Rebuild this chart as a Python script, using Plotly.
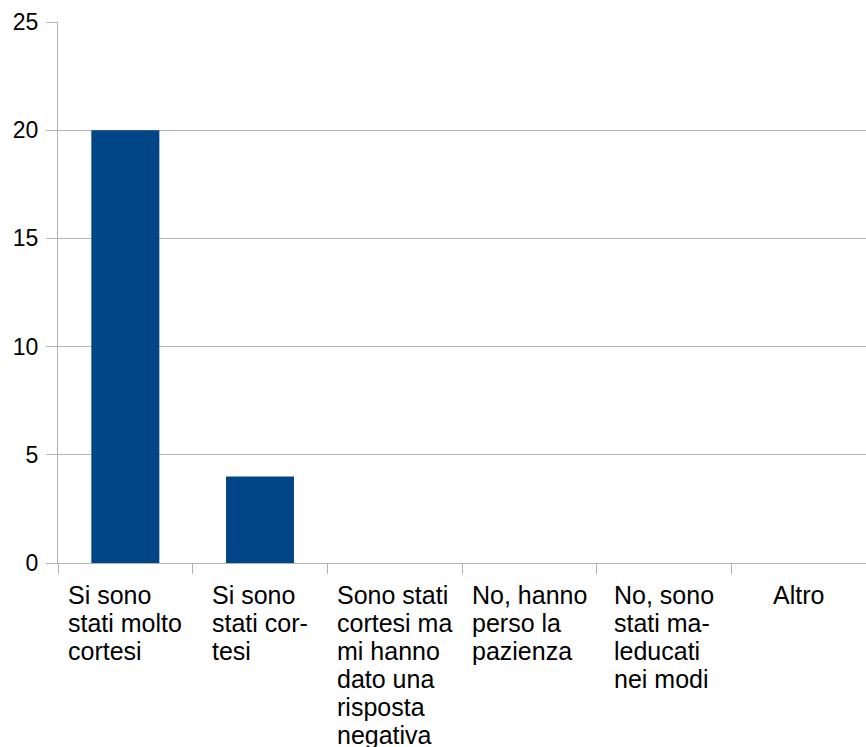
import plotly.graph_objects as go

categories = [
    "Si sono<br>stati molto<br>cortesi",
    "Si sono<br>stati cor-<br>tesi",
    "Sono stati<br>cortesi ma<br>mi hanno<br>dato una<br>risposta<br>negativa",
    "No, hanno<br>perso la<br>pazienza",
    "No, sono<br>stati ma-<br>leducati<br>nei modi",
    "Altro",
]
values = [20, 4, 0, 0, 0, 0]
y_ticks = [0, 5, 10, 15, 20, 25]

FONT = "Liberation Sans, Arial, sans-serif"
GRID = "#b3b3b3"
LABEL_PX = 25

fig = go.Figure(go.Bar(x=categories, y=values, marker=dict(color="#004586", line=dict(width=0)), width=0.505))

for lab in categories:
    styled = "<br>".join(f'<span style="font-size:{LABEL_PX}px">{ln}</span>' for ln in lab.split("<br>"))
    fig.add_annotation(
        x=lab, xref="x", y=0, yref="paper", yanchor="top", xanchor="center",
        text=styled, align="left", showarrow=False,
        font=dict(family=FONT, size=28 / 1.3, color="#000000"),
        yshift=-16,
    )

fig.update_layout(
    width=866, height=747,
    margin=dict(l=58, r=0, t=22, b=184),
    paper_bgcolor="white", plot_bgcolor="white",
    showlegend=False,
    font=dict(family=FONT, size=24, color="#000000"),
    bargap=0.495,
)
fig.update_xaxes(
    type="category", automargin=False,
    showticklabels=False, tickson="boundaries", ticks="outside", ticklen=10,
    tickcolor=GRID, showline=True, linecolor=GRID, linewidth=1,
    showgrid=False, zeroline=False,
)
fig.update_yaxes(
    range=[0, 25], tickmode="array", tickvals=y_ticks, automargin=False,
    ticks="outside", ticklen=11, tickcolor=GRID, ticklabelstandoff=3,
    showgrid=True, gridcolor=GRID, gridwidth=1,
    showline=True, linecolor=GRID, linewidth=1, zeroline=False,
    tickfont=dict(family=FONT, size=23, color="#000000"),
)
fig.write_html(
    "out.html",
    config={"displayModeBar": False},
    post_script="document.body.style.margin='0';document.body.style.overflow='hidden';",
)
